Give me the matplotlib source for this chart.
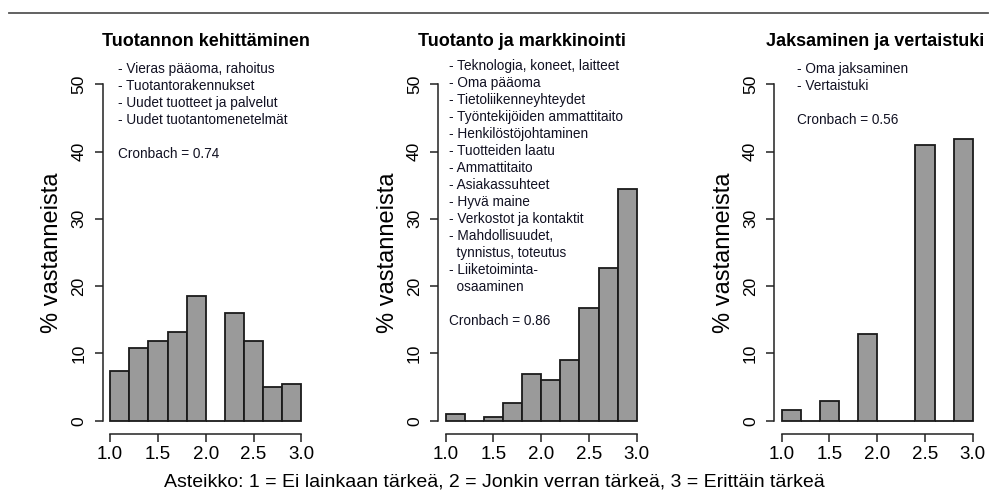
import matplotlib
matplotlib.use("Agg")
import matplotlib.pyplot as plt
import numpy as np

plt.rcParams['font.family'] = ['Liberation Sans', 'DejaVu Sans']

# histogram bins (0.2 wide, scale 1..3)
bin_edges = [1.0, 1.2, 1.4, 1.6, 1.8, 2.0, 2.2, 2.4, 2.6, 2.8, 3.0]

titles = ["Tuotannon kehittäminen", "Tuotanto ja markkinointi", "Jaksaminen ja vertaistuki"]

pct_kehittaminen = [7.4, 10.8, 11.8, 13.2, 18.5, 0.0, 16.0, 11.8, 5.0, 5.5]
pct_markkinointi = [1.0, 0.0, 0.6, 2.6, 6.9, 6.0, 9.1, 16.8, 22.7, 34.4]
pct_jaksaminen = [1.6, 0.0, 3.0, 0.0, 12.9, 0.0, 0.0, 41.0, 0.0, 41.8]

items_kehittaminen = [
    "- Vieras pääoma, rahoitus",
    "- Tuotantorakennukset",
    "- Uudet tuotteet ja palvelut",
    "- Uudet tuotantomenetelmät",
]
items_markkinointi = [
    "- Teknologia, koneet, laitteet",
    "- Oma pääoma",
    "- Tietoliikenneyhteydet",
    "- Työntekijöiden ammattitaito",
    "- Henkilöstöjohtaminen",
    "- Tuotteiden laatu",
    "- Ammattitaito",
    "- Asiakassuhteet",
    "- Hyvä maine",
    "- Verkostot ja kontaktit",
    "- Mahdollisuudet,",
    "  tynnistus, toteutus",
    "- Liiketoiminta-",
    "  osaaminen",
]
items_jaksaminen = [
    "- Oma jaksaminen",
    "- Vertaistuki",
]
cronbach = [0.74, 0.86, 0.56]

y_ticks = [0, 10, 20, 30, 40, 50]
x_ticks = [1.0, 1.5, 2.0, 2.5, 3.0]

W, H = 989, 493
fig = plt.figure(figsize=(W / 100, H / 100), dpi=100)

# horizontal rule at the top of the page
fig.add_artist(plt.Line2D([9 / W, 988 / W], [1 - 13 / H, 1 - 13 / H],
                          color="#555555", lw=1.3))

lefts = [102.5, 438.0, 774.0]
text_x = [118, 449, 797]
text_y0 = [68.5, 65.7, 69.0]
title_x = [206, 522, 875]
line_step = 17.05

all_pct = [pct_kehittaminen, pct_markkinointi, pct_jaksaminen]
all_items = [items_kehittaminen, items_markkinointi, items_jaksaminen]

for i in range(3):
    ax = fig.add_axes([lefts[i] / W, 1 - 434.2 / H, 206.5 / W, (434.2 - 70.8) / H])
    ax.bar(bin_edges[:-1], all_pct[i], width=0.2, align="edge",
           color="#9a9a9a", edgecolor="#1a1a1a", linewidth=1.3)
    ax.set_xlim(0.92, 3.08)
    ax.set_ylim(-2, 52)
    for s in ["top", "right"]:
        ax.spines[s].set_visible(False)
    ax.spines["left"].set_bounds(0, 50)
    ax.spines["bottom"].set_bounds(1, 3)
    for s in ["left", "bottom"]:
        ax.spines[s].set_linewidth(1.1)
        ax.spines[s].set_color("#222222")
    ax.set_yticks(y_ticks)
    ax.set_yticklabels([str(v) for v in y_ticks], rotation=90, va="center",
                       fontsize=12.5)
    ax.set_xticks(x_ticks)
    ax.set_xticklabels([f"{v:.1f}" for v in x_ticks], fontsize=13.5)
    ax.tick_params(axis="y", length=5.5, width=1.1, pad=6, color="#222222")
    ax.tick_params(axis="x", length=5.5, width=1.1, pad=3, color="#222222")
    ax.set_ylabel("% vastanneista", fontsize=17, labelpad=6)
    ax.patch.set_alpha(0)

    fig.text(title_x[i] / W, 1 - 42 / H, titles[i], fontsize=13,
             fontweight="bold", ha="center", va="center")
    lines = all_items[i]
    for k, txt in enumerate(lines):
        fig.text(text_x[i] / W, 1 - (text_y0[i] + k * line_step) / H, txt,
                 fontsize=9.8, ha="left", va="center", color="#111122")
    fig.text(text_x[i] / W, 1 - (text_y0[i] + (len(lines) + 1) * line_step) / H,
             f"Cronbach = {cronbach[i]:.2f}", fontsize=9.8, ha="left",
             va="center", color="#111122")

fig.text(494 / W, 1 - 482 / H,
         "Asteikko: 1 = Ei lainkaan tärkeä, 2 = Jonkin verran tärkeä, 3 = Erittäin tärkeä",
         fontsize=14, ha="center", va="center",
         family=["Liberation Sans Narrow", "Liberation Sans", "DejaVu Sans"])

fig.savefig("out.png", dpi=100)
